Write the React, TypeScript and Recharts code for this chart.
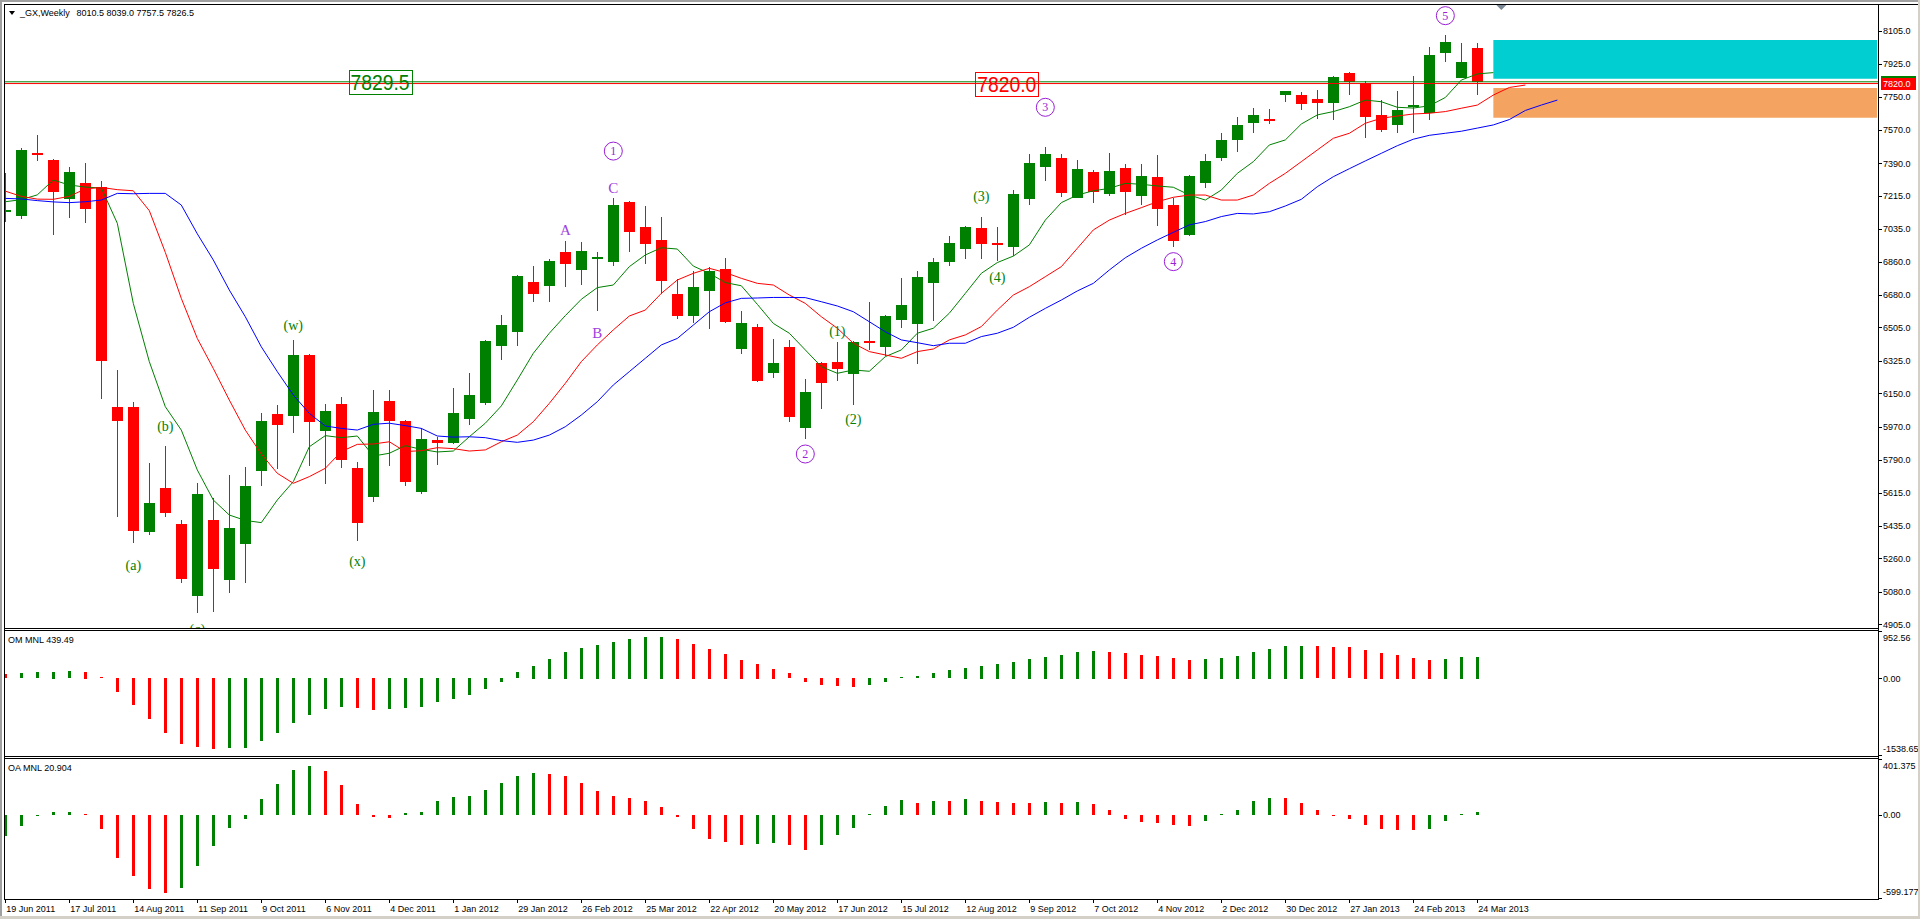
import React from 'react'
import {ComposedChart, Bar, Line, XAxis, YAxis, ReferenceLine, ReferenceArea, ReferenceDot} from 'recharts'

const GREEN = '#008000'
const RED = '#ff0000'
const BLUE = '#0000ff'
const PURPLE = '#9a1fd6'
const SANS = '"Liberation Sans", Arial, sans-serif'
const SERIF = '"Liberation Serif", "Times New Roman", serif'

const AXIS_X = 1878
const X_DOMAIN: [number, number] = [-0.081, 117.04]
const PRICE_DOMAIN: [number, number] = [4885, 8248.9]
const OM_DOMAIN: [number, number] = [-1538.65, 952.56]
const OA_DOMAIN: [number, number] = [-599.177, 401.375]

// weekly candles, 19 Jun 2011 .. 24 Mar 2013
const opens = [
  7130, 7108, 7445, 7408, 7198, 7284, 7262, 6076, 6076, 5404, 5640, 5446, 5059, 5467, 5145, 5338, 5733, 6039, 6029, 6357,
  5949, 6093, 5748, 5593, 6109, 6001, 5620, 5897, 5884, 6013, 6100, 6407, 6482, 6750, 6730, 6912, 6817, 6876, 6860, 7182,
  7047, 6977, 6686, 6569, 6703, 6820, 6391, 6508, 6261, 6400, 5965, 6314, 6319, 6256, 6432, 6401, 6547, 6525, 6746, 6860,
  6930, 7041, 6963, 6941, 7199, 7372, 7419, 7205, 7343, 7226, 7365, 7215, 7316, 7165, 7005, 7286, 7420, 7517, 7606, 7628,
  7760, 7758, 7737, 7717, 7877, 7825, 7651, 7598, 7695, 7663, 7986, 7852, 8010.5,
]
const highs = [
  7336, 7473, 7543, 7412, 7372, 7393, 7295, 6276, 6103, 5776, 5866, 5467, 5668, 5587, 5710, 5755, 6042, 6087, 6438, 6360,
  6093, 6130, 5780, 6168, 6168, 6005, 5965, 5916, 6179, 6260, 6436, 6572, 6790, 6837, 6874, 6971, 6966, 6912, 7201, 7185,
  7160, 7101, 6766, 6809, 6831, 6880, 6594, 6524, 6443, 6438, 6227, 6318, 6427, 6430, 6642, 6572, 6772, 6809, 6880, 6998,
  7050, 7101, 7047, 7246, 7440, 7478, 7440, 7408, 7354, 7446, 7386, 7386, 7435, 7203, 7327, 7440, 7554, 7640, 7688, 7683,
  7782, 7775, 7785, 7861, 7880, 7835, 7731, 7780, 7861, 8017, 8082, 8039, 8039,
]
const lows = [
  7075, 7090, 7404, 7004, 7097, 7070, 6118, 5485, 5342, 5385, 5485, 5129, 4964, 4973, 5075, 5126, 5652, 5744, 5938, 5760,
  5660, 5749, 5356, 5563, 5760, 5652, 5606, 5765, 5875, 5981, 6089, 6330, 6407, 6644, 6644, 6725, 6736, 6596, 6838, 6914,
  6849, 6687, 6552, 6531, 6498, 6531, 6364, 6213, 6234, 5997, 5905, 6067, 6218, 6089, 6385, 6353, 6504, 6310, 6542, 6838,
  6876, 6876, 6865, 6892, 7167, 7296, 7210, 7203, 7178, 7215, 7113, 7167, 7054, 6941, 6999, 7259, 7404, 7453, 7555, 7604,
  7722, 7679, 7631, 7625, 7760, 7528, 7560, 7555, 7555, 7625, 7938, 7850, 7757.5,
]
const closes = [
  7140, 7462, 7440, 7237, 7343, 7145, 6326, 6003, 5409, 5557, 5507, 5151, 5607, 5205, 5424, 5650, 6001, 5979, 6357, 5997,
  6055, 5792, 5453, 6049, 6003, 5674, 5904, 5884, 6044, 6141, 6432, 6518, 6783, 6687, 6864, 6849, 6917, 6886, 7165, 7021,
  6957, 6757, 6569, 6723, 6809, 6536, 6529, 6218, 6314, 6024, 6157, 6207, 6283, 6427, 6424, 6567, 6626, 6777, 6858, 6960,
  7047, 6957, 6955, 7225, 7392, 7440, 7232, 7359, 7237, 7349, 7237, 7322, 7145, 6973, 7322, 7403, 7516, 7597, 7651, 7622,
  7780, 7711, 7717, 7855, 7830, 7641, 7571, 7677, 7704, 7974, 8044, 7936, 7826.5,
]

// moving averages as drawn (shifted forward, so they run past the last candle)
const maFast = [
  7183, 7194, 7220, 7300, 7273, 7262, 7257, 7067, 6635, 6321, 6078, 5952, 5737, 5575, 5494, 5465, 5453, 5575, 5674, 5862,
  5922, 5911, 5920, 5812, 5827, 5868, 5848, 5834, 5839, 5916, 5989, 6082, 6222, 6366, 6474, 6569, 6657, 6720, 6734, 6833,
  6896, 6935, 6928, 6836, 6797, 6747, 6730, 6630, 6527, 6474, 6384, 6294, 6258, 6276, 6269, 6348, 6384, 6474, 6501, 6582,
  6689, 6797, 6855, 6890, 6950, 7084, 7178, 7219, 7242, 7255, 7282, 7277, 7268, 7261, 7219, 7192, 7246, 7336, 7399, 7489,
  7516, 7602, 7651, 7669, 7695, 7731, 7722, 7692, 7688, 7700, 7745, 7839, 7872, 7879,
]
const maMid = [
  7240, 7212, 7197, 7196, 7212, 7252, 7260, 7248, 7242, 7135, 6910, 6662, 6446, 6284, 6114, 5952, 5823, 5719, 5665, 5701,
  5746, 5836, 5875, 5877, 5889, 5836, 5841, 5857, 5852, 5839, 5845, 5889, 5925, 5997, 6096, 6204, 6321, 6411, 6492, 6567,
  6599, 6689, 6761, 6797, 6824, 6801, 6770, 6743, 6734, 6680, 6635, 6563, 6501, 6420, 6375, 6357, 6339, 6375, 6389, 6438,
  6465, 6510, 6599, 6680, 6725, 6779, 6833, 6932, 7031, 7084, 7120, 7151, 7183, 7207, 7219, 7219, 7192, 7192, 7219, 7282,
  7336, 7399, 7462, 7525, 7552, 7606, 7633, 7645, 7656, 7660, 7669, 7687, 7704, 7758, 7799, 7812,
]
const maSlow = [
  7201, 7198, 7189, 7182, 7178, 7183, 7192, 7228, 7226, 7228, 7228, 7165, 7010, 6869, 6707, 6563, 6401, 6267, 6141, 6042,
  5974, 5961, 5952, 5983, 5989, 5976, 5961, 5920, 5914, 5916, 5911, 5895, 5886, 5898, 5925, 5970, 6033, 6105, 6195, 6267,
  6339, 6411, 6446, 6518, 6590, 6638, 6662, 6664, 6667, 6667, 6666, 6644, 6621, 6590, 6536, 6482, 6438, 6423, 6407, 6420,
  6420, 6456, 6474, 6506, 6560, 6608, 6653, 6702, 6743, 6815, 6881, 6932, 6977, 7018, 7058, 7076, 7103, 7120, 7117, 7129,
  7160, 7196, 7264, 7318, 7361, 7403, 7444, 7485, 7520, 7541, 7552, 7563, 7580, 7597, 7626, 7675, 7704, 7731,
]

// OM MNL histogram (1 = green, 0 = red)
const omValues = [
  80, 100, 120, 135, 142, 138, 20, -272, -538, -817, -1096, -1335, -1394, -1434, -1414, -1414, -1275, -1115, -896, -737,
  -617, -578, -598, -637, -617, -598, -578, -478, -418, -339, -219, -73, 120, 259, 398, 538, 617, 677, 737, 797,
  837, 837, 797, 697, 598, 498, 379, 299, 199, 100, -80, -139, -159, -179, -139, -80, 20, 40, 100, 159,
  219, 259, 299, 339, 398, 438, 478, 538, 558, 538, 518, 478, 458, 418, 379, 398, 418, 458, 538, 598,
  657, 660, 652, 637, 630, 578, 518, 478, 418, 379, 398, 438, 439.49,
]
const omUp = [
  0, 1, 1, 1, 1, 0, 0, 0, 0, 0, 0, 0, 0, 0, 1, 1, 1, 1, 1, 1, 1, 1, 0, 0, 1, 1, 1, 1, 1, 1, 1, 1, 1, 1, 1, 1, 1, 1, 1, 1,
  1, 1, 0, 0, 0, 0, 0, 0, 0, 0, 0, 0, 0, 0, 1, 1, 1, 1, 1, 1, 1, 1, 1, 1, 1, 1, 1, 1, 1, 0, 0, 0, 0, 0, 0, 1, 1, 1, 1, 1,
  1, 1, 0, 0, 0, 0, 0, 0, 0, 0, 1, 1, 1,
]

// OA MNL histogram
const oaValues = [
  -151, -79, -3, 22, 22, 5, -101, -310, -439, -533, -562, -526, -367, -223, -94, -29, 115, 223, 324, 353,
  317, 216, 79, -14, -22, 14, 22, 101, 130, 137, 180, 230, 281, 302, 295, 281, 230, 173, 137, 122,
  101, 58, -14, -101, -173, -194, -216, -209, -202, -216, -252, -216, -144, -94, 3, 65, 108, 86, 101, 99,
  115, 101, 94, 86, 84, 94, 86, 94, 79, 36, -29, -50, -58, -72, -79, -43, 3, 36, 101, 122,
  122, 86, 36, -3, -29, -72, -101, -108, -110, -101, -43, 5, 20.904,
]
const oaUp = [
  1, 1, 1, 1, 1, 0, 0, 0, 0, 0, 0, 1, 1, 1, 1, 1, 1, 1, 1, 1, 0, 0, 0, 0, 0, 1, 1, 1, 1, 1, 1, 1, 1, 1, 0, 0, 0, 0, 0, 0,
  0, 0, 0, 0, 0, 0, 0, 1, 1, 0, 0, 1, 1, 1, 1, 1, 1, 0, 1, 0, 1, 0, 0, 0, 0, 1, 0, 1, 0, 0, 0, 0, 0, 0, 0, 1, 1, 1, 1, 1,
  0, 0, 0, 0, 0, 0, 0, 0, 0, 1, 1, 1, 1,
]

const dateTickIdx = [0, 4, 8, 12, 16, 20, 24, 28, 32, 36, 40, 44, 48, 52, 56, 60, 64, 68, 72, 76, 80, 84, 88, 92]
const dateLabels = [
  '19 Jun 2011', '17 Jul 2011', '14 Aug 2011', '11 Sep 2011', '9 Oct 2011', '6 Nov 2011', '4 Dec 2011', '1 Jan 2012',
  '29 Jan 2012', '26 Feb 2012', '25 Mar 2012', '22 Apr 2012', '20 May 2012', '17 Jun 2012', '15 Jul 2012', '12 Aug 2012',
  '9 Sep 2012', '7 Oct 2012', '4 Nov 2012', '2 Dec 2012', '30 Dec 2012', '27 Jan 2013', '24 Feb 2013', '24 Mar 2013',
]
const priceTicks = [8105, 7925, 7750, 7570, 7390, 7215, 7035, 6860, 6680, 6505, 6325, 6150, 5970, 5790, 5615, 5435, 5260, 5080, 4905]

const levels = [
  {price: 7829.5, color: GREEN},
  {price: 7820.0, color: RED},
]
const zones = [
  {from: 93, to: 116.98, lo: 7846, hi: 8055, color: '#00ced1'},
  {from: 93, to: 116.98, lo: 7636, hi: 7796, color: '#f4a460'},
]
const priceBoxes = [
  {i: 23.42, p: 7826, text: '7829.5', color: GREEN},
  {i: 62.59, p: 7817, text: '7820.0', color: RED},
]
const waveLabels = [
  {i: 8, p: 5215, text: '(a)', kind: 'minor'},
  {i: 10, p: 5967, text: '(b)', kind: 'minor'},
  {i: 12, p: 4873, text: '(c)', kind: 'minor'},
  {i: 18, p: 6509, text: '(w)', kind: 'minor'},
  {i: 22, p: 5237, text: '(x)', kind: 'minor'},
  {i: 35, p: 7031, text: 'A', kind: 'letter'},
  {i: 37, p: 6477, text: 'B', kind: 'letter'},
  {i: 38, p: 7259, text: 'C', kind: 'letter'},
  {i: 38, p: 7456, text: '1', kind: 'circle'},
  {i: 50, p: 5823, text: '2', kind: 'circle'},
  {i: 52, p: 6477, text: '(1)', kind: 'minor'},
  {i: 53, p: 6003, text: '(2)', kind: 'minor'},
  {i: 61, p: 7207, text: '(3)', kind: 'minor'},
  {i: 62, p: 6770, text: '(4)', kind: 'minor'},
  {i: 65, p: 7692, text: '3', kind: 'circle'},
  {i: 73, p: 6860, text: '4', kind: 'circle'},
  {i: 90, p: 8186, text: '5', kind: 'circle'},
]

const rows = maSlow.map((_, i) => ({
  i,
  range: i < opens.length ? [lows[i], highs[i]] : null,
  o: opens[i],
  h: highs[i],
  l: lows[i],
  c: closes[i],
  fast: maFast[i] ?? null,
  mid: maMid[i] ?? null,
  slow: maSlow[i],
}))

const subRows = omValues.map((v, i) => ({
  i,
  om: v,
  omColor: omUp[i] ? GREEN : RED,
  oa: oaValues[i],
  oaColor: oaUp[i] ? GREEN : RED,
}))

const Candle = (props: any) => {
  const {x, y, width, height, payload} = props
  if (!payload || payload.o == null || x == null || y == null) return null
  const top = Math.min(y, y + height)
  const bottom = Math.max(y, y + height)
  const span = payload.h - payload.l
  const k = span > 0 ? (bottom - top) / span : 0
  const yOf = (v: number) => top + (payload.h - v) * k
  const color = payload.c >= payload.o ? GREEN : RED
  const cx = x + width / 2
  const wx = Math.floor(cx) + 0.5
  let bTop = Math.round(yOf(Math.max(payload.o, payload.c)))
  let bBot = Math.round(yOf(Math.min(payload.o, payload.c)))
  if (bBot - bTop < 2) {
    const m = Math.round((bTop + bBot) / 2)
    bTop = m - 1
    bBot = m + 1
  }
  return (
    <g shapeRendering="crispEdges">
      <line x1={wx} x2={wx} y1={Math.round(top)} y2={Math.round(bottom)} stroke={color} strokeWidth={1} />
      <rect x={Math.round(cx - 5.5)} y={bTop} width={11} height={bBot - bTop} fill={color} />
    </g>
  )
}

const HistBar = (props: any) => {
  const {x, y, width, height, payload, colorKey} = props
  if (!payload || x == null || y == null) return null
  const top = Math.min(y, y + height)
  const h = Math.max(1, Math.round(Math.abs(height)))
  const cx = x + width / 2
  return <rect x={Math.round(cx - 1.5)} y={Math.round(top)} width={3} height={h} fill={payload[colorKey]} shapeRendering="crispEdges" />
}

const PriceTick = (props: any) => {
  const {y, payload} = props
  const ty = Math.round(y) + 0.5
  return (
    <g>
      <line x1={AXIS_X + 1} x2={AXIS_X + 4} y1={ty} y2={ty} stroke="#000" shapeRendering="crispEdges" />
      <text x={AXIS_X + 5} y={y} dy="0.36em" fontSize={9} fontFamily={SANS} fill="#000">
        {payload.value.toFixed(1)}
      </text>
    </g>
  )
}

const SubTick = (props: any) => {
  const {y, payload, lo, hi, digits} = props
  const v = payload.value
  let ty = y
  if (v === hi) ty = y + 7
  else if (v === lo) ty = y - 6
  const txt = v === 0 ? '0.00' : v.toFixed(digits)
  return (
    <g>
      <line x1={AXIS_X + 1} x2={AXIS_X + 4} y1={Math.round(y) + 0.5} y2={Math.round(y) + 0.5} stroke="#000" shapeRendering="crispEdges" />
      <text x={AXIS_X + 5} y={ty} dy="0.36em" fontSize={9} fontFamily={SANS} fill="#000">{txt}</text>
    </g>
  )
}

const DateTick = (props: any) => {
  const {x, payload} = props
  const k = dateTickIdx.indexOf(payload.value)
  if (k < 0) return null
  const tx = Math.floor(x) + 0.5
  return (
    <g>
      <line x1={tx} x2={tx} y1={142} y2={146} stroke="#000" shapeRendering="crispEdges" />
      <text x={x + 1} y={154.5} fontSize={9} fontFamily={SANS} fill="#000">{dateLabels[k]}</text>
    </g>
  )
}

const WaveMark = ({cx, cy, w}: any) => {
  if (cx == null || cy == null) return null
  if (w.kind === 'circle') {
    return (
      <g>
        <circle cx={cx} cy={cy} r={9} fill="none" stroke={PURPLE} strokeWidth={1} />
        <text x={cx} y={cy} dy="0.34em" textAnchor="middle" fontSize={12} fontFamily={SERIF} fill={PURPLE}>{w.text}</text>
      </g>
    )
  }
  if (w.kind === 'letter') {
    return <text x={cx} y={cy} dy="0.34em" textAnchor="middle" fontSize={15} fontFamily={SERIF} fill="#a040e0">{w.text}</text>
  }
  return <text x={cx} y={cy} dy="0.26em" textAnchor="middle" fontSize={14} fontFamily={SERIF} fill={GREEN}>{w.text}</text>
}

const PriceBox = ({cx, cy, b}: any) => {
  if (cx == null || cy == null) return null
  return (
    <g>
      <rect x={Math.round(cx - 31.5) + 0.5} y={Math.round(cy - 12) + 0.5} width={63} height={24} fill="none" stroke={b.color} strokeWidth={1} shapeRendering="crispEdges" />
      <text x={cx} y={cy} dy="0.36em" textAnchor="middle" fontSize={22} fontFamily={SANS} fill={b.color} textLength={59} lengthAdjust="spacingAndGlyphs">
        {b.text}
      </text>
    </g>
  )
}

const AxisTag = ({cx, cy, lv}: any) => {
  if (cx == null || cy == null) return null
  return (
    <g>
      <rect x={cx + 3} y={Math.round(cy - 6)} width={35} height={12} fill={lv.color} shapeRendering="crispEdges" />
      <text x={cx + 5} y={cy} dy="0.36em" fontSize={9} fontFamily={SANS} fill="#fff">{lv.price.toFixed(1)}</text>
    </g>
  )
}

const ShiftMark = ({cx, cy}: any) => {
  if (cx == null || cy == null) return null
  return <polygon points={`${cx - 5},${cy - 2} ${cx + 5},${cy - 2} ${cx},${cy + 3}`} fill="#7a8896" />
}

const App = () => {
  return (
    <div style={{position: 'fixed', left: 0, top: 0, width: 1920, height: 919, background: '#fff', overflow: 'hidden'}}>
      <div style={{position: 'absolute', left: 0, top: 0, width: 1920, height: 629, overflow: 'hidden'}}>
        <ComposedChart width={1920} height={629} data={rows} margin={{top: 4, right: 0, bottom: 1, left: 4}}>
          <XAxis type="number" dataKey="i" domain={X_DOMAIN} allowDataOverflow hide />
          <YAxis
            orientation="right"
            domain={PRICE_DOMAIN}
            allowDataOverflow
            ticks={priceTicks}
            interval={0}
            width={42}
            axisLine={false}
            tickLine={false}
            tickSize={0}
            tick={<PriceTick />}
          />
          {zones.map((z, k) => (
            <ReferenceArea key={'z' + k} x1={z.from} x2={z.to} y1={z.lo} y2={z.hi} fill={z.color} fillOpacity={1} stroke="none" ifOverflow="hidden" />
          ))}
          {levels.map((lv, k) => (
            <ReferenceLine key={'l' + k} y={lv.price} stroke={lv.color} strokeWidth={1} />
          ))}
          <Bar dataKey="range" barSize={11} shape={<Candle />} isAnimationActive={false} />
          <Line type="linear" dataKey="fast" stroke={GREEN} strokeWidth={1} dot={false} activeDot={false} isAnimationActive={false} />
          <Line type="linear" dataKey="mid" stroke={RED} strokeWidth={1} dot={false} activeDot={false} isAnimationActive={false} />
          <Line type="linear" dataKey="slow" stroke={BLUE} strokeWidth={1} dot={false} activeDot={false} isAnimationActive={false} />
          {priceBoxes.map((b, k) => (
            <ReferenceDot key={'b' + k} x={b.i} y={b.p} r={1} ifOverflow="visible" shape={(p: any) => <PriceBox cx={p.cx} cy={p.cy} b={b} />} />
          ))}
          {waveLabels.map((w, k) => (
            <ReferenceDot key={'w' + k} x={w.i} y={w.p} r={1} ifOverflow="visible" shape={(p: any) => <WaveMark cx={p.cx} cy={p.cy} w={w} />} />
          ))}
          {levels.map((lv, k) => (
            <ReferenceDot key={'t' + k} x={X_DOMAIN[1]} y={lv.price} r={1} ifOverflow="visible" shape={(p: any) => <AxisTag cx={p.cx} cy={p.cy} lv={lv} />} />
          ))}
          <ReferenceDot x={93.5} y={8233} r={1} ifOverflow="visible" shape={(p: any) => <ShiftMark cx={p.cx} cy={p.cy} />} />
        </ComposedChart>
      </div>

      <div style={{position: 'absolute', left: 0, top: 629, width: 1920, height: 128, overflow: 'hidden'}}>
        <ComposedChart width={1920} height={128} data={subRows} margin={{top: 2, right: 0, bottom: 2, left: 4}}>
          <XAxis type="number" dataKey="i" domain={X_DOMAIN} allowDataOverflow hide />
          <YAxis
            orientation="right"
            domain={OM_DOMAIN}
            allowDataOverflow
            ticks={[OM_DOMAIN[1], 0, OM_DOMAIN[0]]}
            interval={0}
            width={42}
            axisLine={false}
            tickLine={false}
            tickSize={0}
            tick={<SubTick lo={OM_DOMAIN[0]} hi={OM_DOMAIN[1]} digits={2} />}
          />
          <Bar dataKey="om" barSize={3} shape={<HistBar colorKey="omColor" />} isAnimationActive={false} />
        </ComposedChart>
      </div>

      <div style={{position: 'absolute', left: 0, top: 757, width: 1920, height: 162, overflow: 'hidden'}}>
        <ComposedChart width={1920} height={162} data={subRows} margin={{top: 2, right: 0, bottom: 1, left: 4}}>
          <XAxis
            type="number"
            dataKey="i"
            domain={X_DOMAIN}
            allowDataOverflow
            ticks={dateTickIdx}
            interval={0}
            height={20}
            axisLine={false}
            tickLine={false}
            tickSize={0}
            tick={<DateTick />}
          />
          <YAxis
            orientation="right"
            domain={OA_DOMAIN}
            allowDataOverflow
            ticks={[OA_DOMAIN[1], 0, OA_DOMAIN[0]]}
            interval={0}
            width={42}
            axisLine={false}
            tickLine={false}
            tickSize={0}
            tick={<SubTick lo={OA_DOMAIN[0]} hi={OA_DOMAIN[1]} digits={3} />}
          />
          <Bar dataKey="oa" barSize={3} shape={<HistBar colorKey="oaColor" />} isAnimationActive={false} />
        </ComposedChart>
      </div>

      <svg width={1920} height={919} style={{position: 'absolute', left: 0, top: 0, pointerEvents: 'none'}}>
        <rect x={0} y={0} width={1920} height={2} fill="#a0a0a0" />
        <rect x={0} y={0} width={2} height={919} fill="#a0a0a0" />
        <rect x={1918} y={0} width={2} height={919} fill="#d4d0c8" />
        <rect x={0} y={916} width={1920} height={3} fill="#d4d0c8" />
        <g stroke="#000" strokeWidth={1} shapeRendering="crispEdges">
          <line x1={4} x2={1918} y1={4.5} y2={4.5} />
          <line x1={4.5} x2={4.5} y1={4} y2={900} />
          <line x1={AXIS_X + 0.5} x2={AXIS_X + 0.5} y1={4} y2={900} />
          <line x1={4} x2={AXIS_X + 1} y1={628.5} y2={628.5} />
          <line x1={4} x2={AXIS_X + 1} y1={630.5} y2={630.5} />
          <line x1={4} x2={AXIS_X + 1} y1={756.5} y2={756.5} />
          <line x1={4} x2={AXIS_X + 1} y1={758.5} y2={758.5} />
          <line x1={4} x2={AXIS_X + 1} y1={899.5} y2={899.5} />
        </g>
        <polygon points="9,11 15,11 12,15" fill="#000" />
        <text x={20} y={16} fontSize={9} fontFamily={SANS} fill="#000">_GX,Weekly</text>
        <text x={76.5} y={16} fontSize={9} fontFamily={SANS} fill="#000">8010.5 8039.0 7757.5 7826.5</text>
        <text x={8} y={642.5} fontSize={9} fontFamily={SANS} fill="#000">OM MNL 439.49</text>
        <text x={8} y={770.5} fontSize={9} fontFamily={SANS} fill="#000">OA MNL 20.904</text>
      </svg>
    </div>
  )
}

export default App
